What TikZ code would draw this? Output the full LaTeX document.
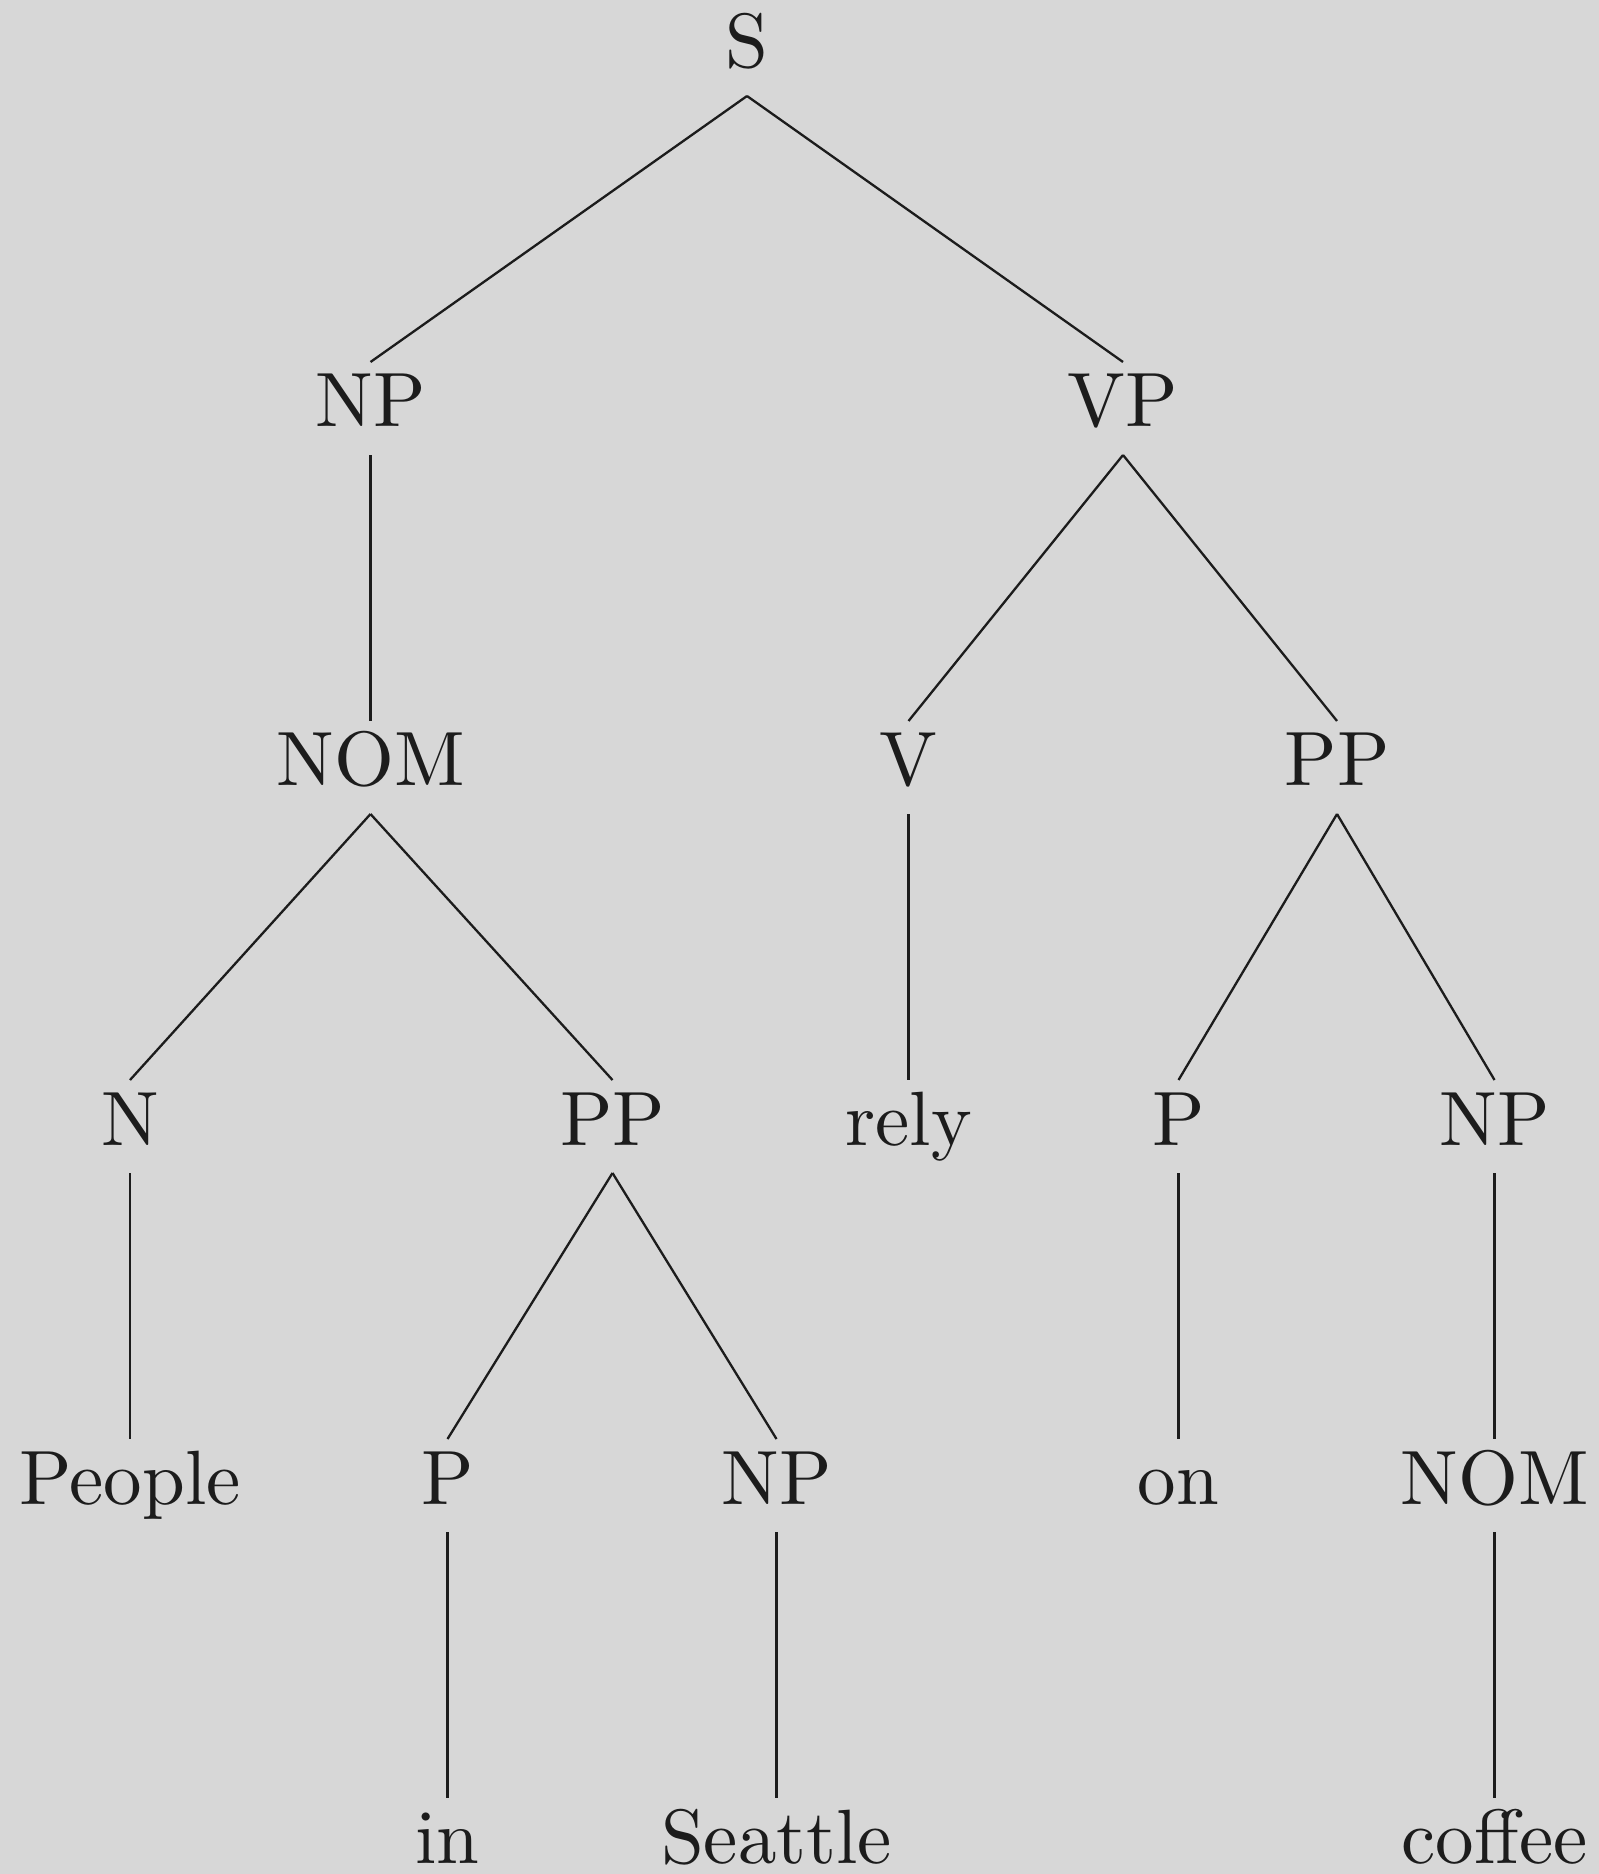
\documentclass[tikz,border=0pt]{standalone}
\definecolor{paper}{RGB}{215,215,215}
\definecolor{ink}{RGB}{28,28,28}
\begin{document}
\begin{tikzpicture}[x=0.12987pt,y=-0.12987pt,
  cat/.style={anchor=base,inner sep=0pt,outer sep=0pt,
              text height=8.44pt,text depth=3.64pt,text=ink},
  branch/.style={draw=ink,line width=0.3pt}]
% page
\fill[paper] (0,0) rectangle (1599,1874);
\useasboundingbox (0,0) rectangle (1599,1874);

% level 0
\node[cat] (S)     at (747,68)     {S};
% level 1
\node[cat] (NPa)   at (370.5,427)  {NP};
\node[cat] (VP)    at (1123,427)   {VP};
% level 2
\node[cat] (NOMa)  at (370.5,786)  {NOM};
\node[cat] (V)     at (908.5,786)  {V};
\node[cat] (PPa)   at (1337,786)   {PP};
% level 3
\node[cat] (N)     at (130,1145)   {N};
\node[cat] (PPb)   at (612.5,1145) {PP};
\node[cat] (rely)  at (908.5,1145) {rely};
\node[cat] (Pa)    at (1178.5,1145){P};
\node[cat] (NPb)   at (1494.5,1145){NP};
% level 4
\node[cat] (people) at (130,1504)   {People};
\node[cat] (Pb)     at (447.5,1504) {P};
\node[cat] (NPc)    at (776.5,1504) {NP};
\node[cat] (on)     at (1178.5,1504){on};
\node[cat] (NOMb)   at (1494.5,1504){NOM};
% level 5
\node[cat] (in)      at (447.5,1863) {in};
\node[cat] (seattle) at (776.5,1863) {Seattle};
\node[cat] (coffee)  at (1494.5,1863){coffee};

% branches
\draw[branch] (S.south) -- (NPa.north);
\draw[branch] (S.south) -- (VP.north);
\draw[branch] (NPa.south) -- (NOMa.north);
\draw[branch] (VP.south) -- (V.north);
\draw[branch] (VP.south) -- (PPa.north);
\draw[branch] (NOMa.south) -- (N.north);
\draw[branch] (NOMa.south) -- (PPb.north);
\draw[branch] (V.south) -- (rely.north);
\draw[branch] (PPa.south) -- (Pa.north);
\draw[branch] (PPa.south) -- (NPb.north);
\draw[branch] (N.south) -- (people.north);
\draw[branch] (PPb.south) -- (Pb.north);
\draw[branch] (PPb.south) -- (NPc.north);
\draw[branch] (Pa.south) -- (on.north);
\draw[branch] (NPb.south) -- (NOMb.north);
\draw[branch] (Pb.south) -- (in.north);
\draw[branch] (NPc.south) -- (seattle.north);
\draw[branch] (NOMb.south) -- (coffee.north);
\end{tikzpicture}
\end{document}
